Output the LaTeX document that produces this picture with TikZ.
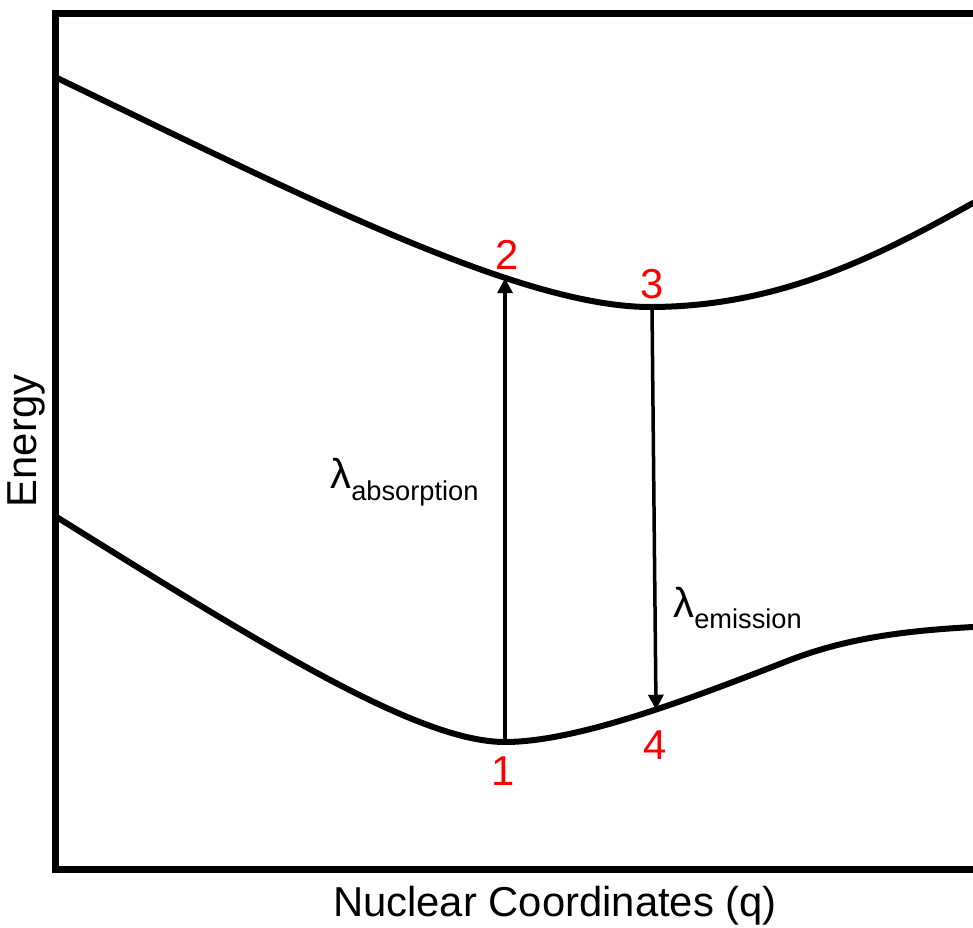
\documentclass[tikz,border=0pt]{standalone}
\usepackage{fontspec}
\setmainfont{Liberation Sans}
\usepackage{tikz}
\usetikzlibrary{arrows.meta,positioning}
\newcommand{\lamsub}[1]{λ\raisebox{-0.28em}{\fontsize{15.5}{18}\selectfont #1}}

\begin{document}
\begin{tikzpicture}[
    x=0.02cm, y=-0.02cm,
    font=\fontsize{23.8}{28}\selectfont,
    frm/.style={line width=7*0.02cm, line join=miter},
    pes/.style={line width=6*0.02cm, line cap=round},
    arr/.style={-{Triangle[length=0.3cm, width=0.3cm]}, line width=3.5*0.02cm, shorten >=-1pt},
    num/.style={text=red, inner sep=0pt, anchor=center},
    lbl/.style={inner sep=0pt, anchor=west}
  ]
  \useasboundingbox (0,0) rectangle (973,928);
  \clip (0,0) rectangle (973,928);

  % --- FRAME ---
  \draw[frm] (1000,13.5) -- (55,13.5) -- (55,869.5) -- (1000,869.5);

  % --- EXCITED STATE ---
  \draw[pes] (55,77) .. controls (300,195) and (520,307) .. (650,307)
    .. controls (780,307) and (880,255) .. (973,203);

  % --- GROUND STATE ---
  \draw[pes] (55,516) .. controls (270,650) and (420,742) .. (505,742)
    .. controls (580,742) and (700,695) .. (790,660)
    .. controls (845,639) and (900,631) .. (973,627);

  % --- POINTS ---
  \coordinate (p1) at (505,742);
  \coordinate (p2) at (505,280);
  \coordinate (p3) at (652,307);
  \coordinate (p4) at (656,708);

  \node[num] (n1) at (503,771) {1};
  \node[num] (n2) at (507,255) {2};
  \node[num] (n3) at (652,284) {3};
  \node[num] (n4) at (655,745) {4};

  % --- TRANSITIONS ---
  \draw[arr] (p1) -- (p2);
  \draw[arr] (p3) -- (p4);

  \node[lbl] (absorp) at (330,482) {\lamsub{absorption}};
  \node[lbl] (emiss) at (673,608) {\lamsub{emission}};

  % --- AXES ---
  \node (xlab) at (555,906) {Nuclear Coordinates (q)};
  \node[rotate=90] (ylab) at (26,441) {Energy};

\end{tikzpicture}
\end{document}
